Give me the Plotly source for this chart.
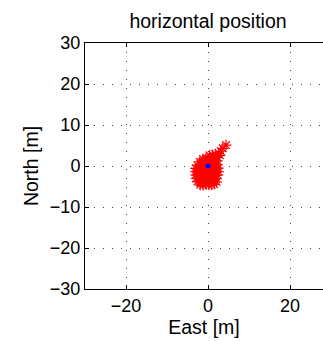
import plotly.graph_objects as go

# Position samples (East, North) in metres
east = [0.4, 1.1, 1.8,
        -1.2, -0.5, 0.2, 0.9, 1.6, 2.2,
        -2.0, -1.3, -0.6, 0.1, 0.8, 1.5, 2.2,
        -2.6, -1.9, -1.2, -0.5, 0.2, 0.9, 1.6, 2.3,
        -3.0, -2.3, -1.6, -0.9, -0.2, 0.5, 1.2, 1.9, 2.5,
        -3.1, -2.3, -1.6, -0.9, -0.2, 0.5, 1.2, 1.9, 2.6,
        -3.0, -2.3, -1.6, -0.9, -0.2, 0.5, 1.2, 1.9, 2.4,
        -2.9, -2.2, -1.5, -0.8, -0.1, 0.6, 1.3, 2.0,
        -2.6, -1.9, -1.2, -0.5, 0.2, 0.9, 1.6, 2.1,
        -1.9, -1.2, -0.5, 0.2, 0.9, 1.5,
        2.6, 3.1, 3.6, 4.4, 2.9]
north = [2.6, 2.7, 2.9,
         1.7, 1.9, 1.8, 1.9, 2.0, 2.1,
         1.0, 1.1, 0.9, 1.0, 1.1, 1.2, 1.3,
         0.2, 0.3, 0.1, 0.2, 0.3, 0.2, 0.4, 0.3,
         -0.6, -0.5, -0.7, -0.6, -0.5, -0.6, -0.4, -0.6, -0.5,
         -1.4, -1.5, -1.3, -1.4, -1.5, -1.4, -1.3, -1.5, -1.4,
         -2.2, -2.3, -2.1, -2.2, -2.3, -2.2, -2.1, -2.3, -2.2,
         -3.0, -3.1, -2.9, -3.0, -3.1, -3.0, -2.9, -3.1,
         -3.8, -3.9, -3.7, -3.8, -3.9, -3.8, -3.7, -3.9,
         -4.6, -4.7, -4.5, -4.6, -4.6, -4.4,
         3.1, 3.6, 4.3, 5.1, 2.6]
ref_east = [0.0]
ref_north = [0.0]

x_ticks = [-20, 0, 20]
y_ticks = [-30, -20, -10, 0, 10, 20, 30]

FONT = "Liberation Sans, Arial, sans-serif"

fig = go.Figure()
fig.add_trace(go.Scatter(
    x=east, y=north, mode="markers",
    marker=dict(symbol="asterisk-open", size=9, color="red",
                line=dict(color="red", width=1.2)),
    showlegend=False, hoverinfo="skip"))
fig.add_trace(go.Scatter(
    x=ref_east, y=ref_north, mode="markers",
    marker=dict(symbol="circle", size=5, color="blue"),
    showlegend=False, hoverinfo="skip"))

axis_common = dict(
    showgrid=True, gridcolor="#444", gridwidth=1, griddash="1px,8px",
    zeroline=False, showline=True, linecolor="black", linewidth=1,
    ticks="inside", ticklen=4, tickcolor="black",
    tickfont=dict(family=FONT, size=18, color="black"),
)

fig.update_layout(
    width=323, height=341,
    margin=dict(l=85, r=0, t=43, b=52),
    paper_bgcolor="white", plot_bgcolor="white",
    title=dict(text="horizontal position", x=0.5 + (208 - 161.5) / 323 * 0 + (208 - 161.5) / 323,
               xanchor="center", yref="container", y=1 - 21 / 341, yanchor="middle",
               font=dict(family=FONT, size=19.5, color="black")),
    xaxis=dict(range=[-30, 28.05], tickvals=x_ticks,
               ticktext=["\u221220", "0", "20"], mirror="ticks",
               title=dict(text="East [m]", font=dict(family=FONT, size=19.5, color="black"), standoff=4),
               **axis_common),
    yaxis=dict(range=[-30, 30], tickvals=y_ticks,
               ticktext=["\u221230", "\u221220", "\u221210", "0", "10", "20", "30"],
               mirror=False,
               title=dict(text="North [m]", font=dict(family=FONT, size=19.5, color="black"), standoff=6),
               **axis_common),
)

fig.write_html("out.html")
